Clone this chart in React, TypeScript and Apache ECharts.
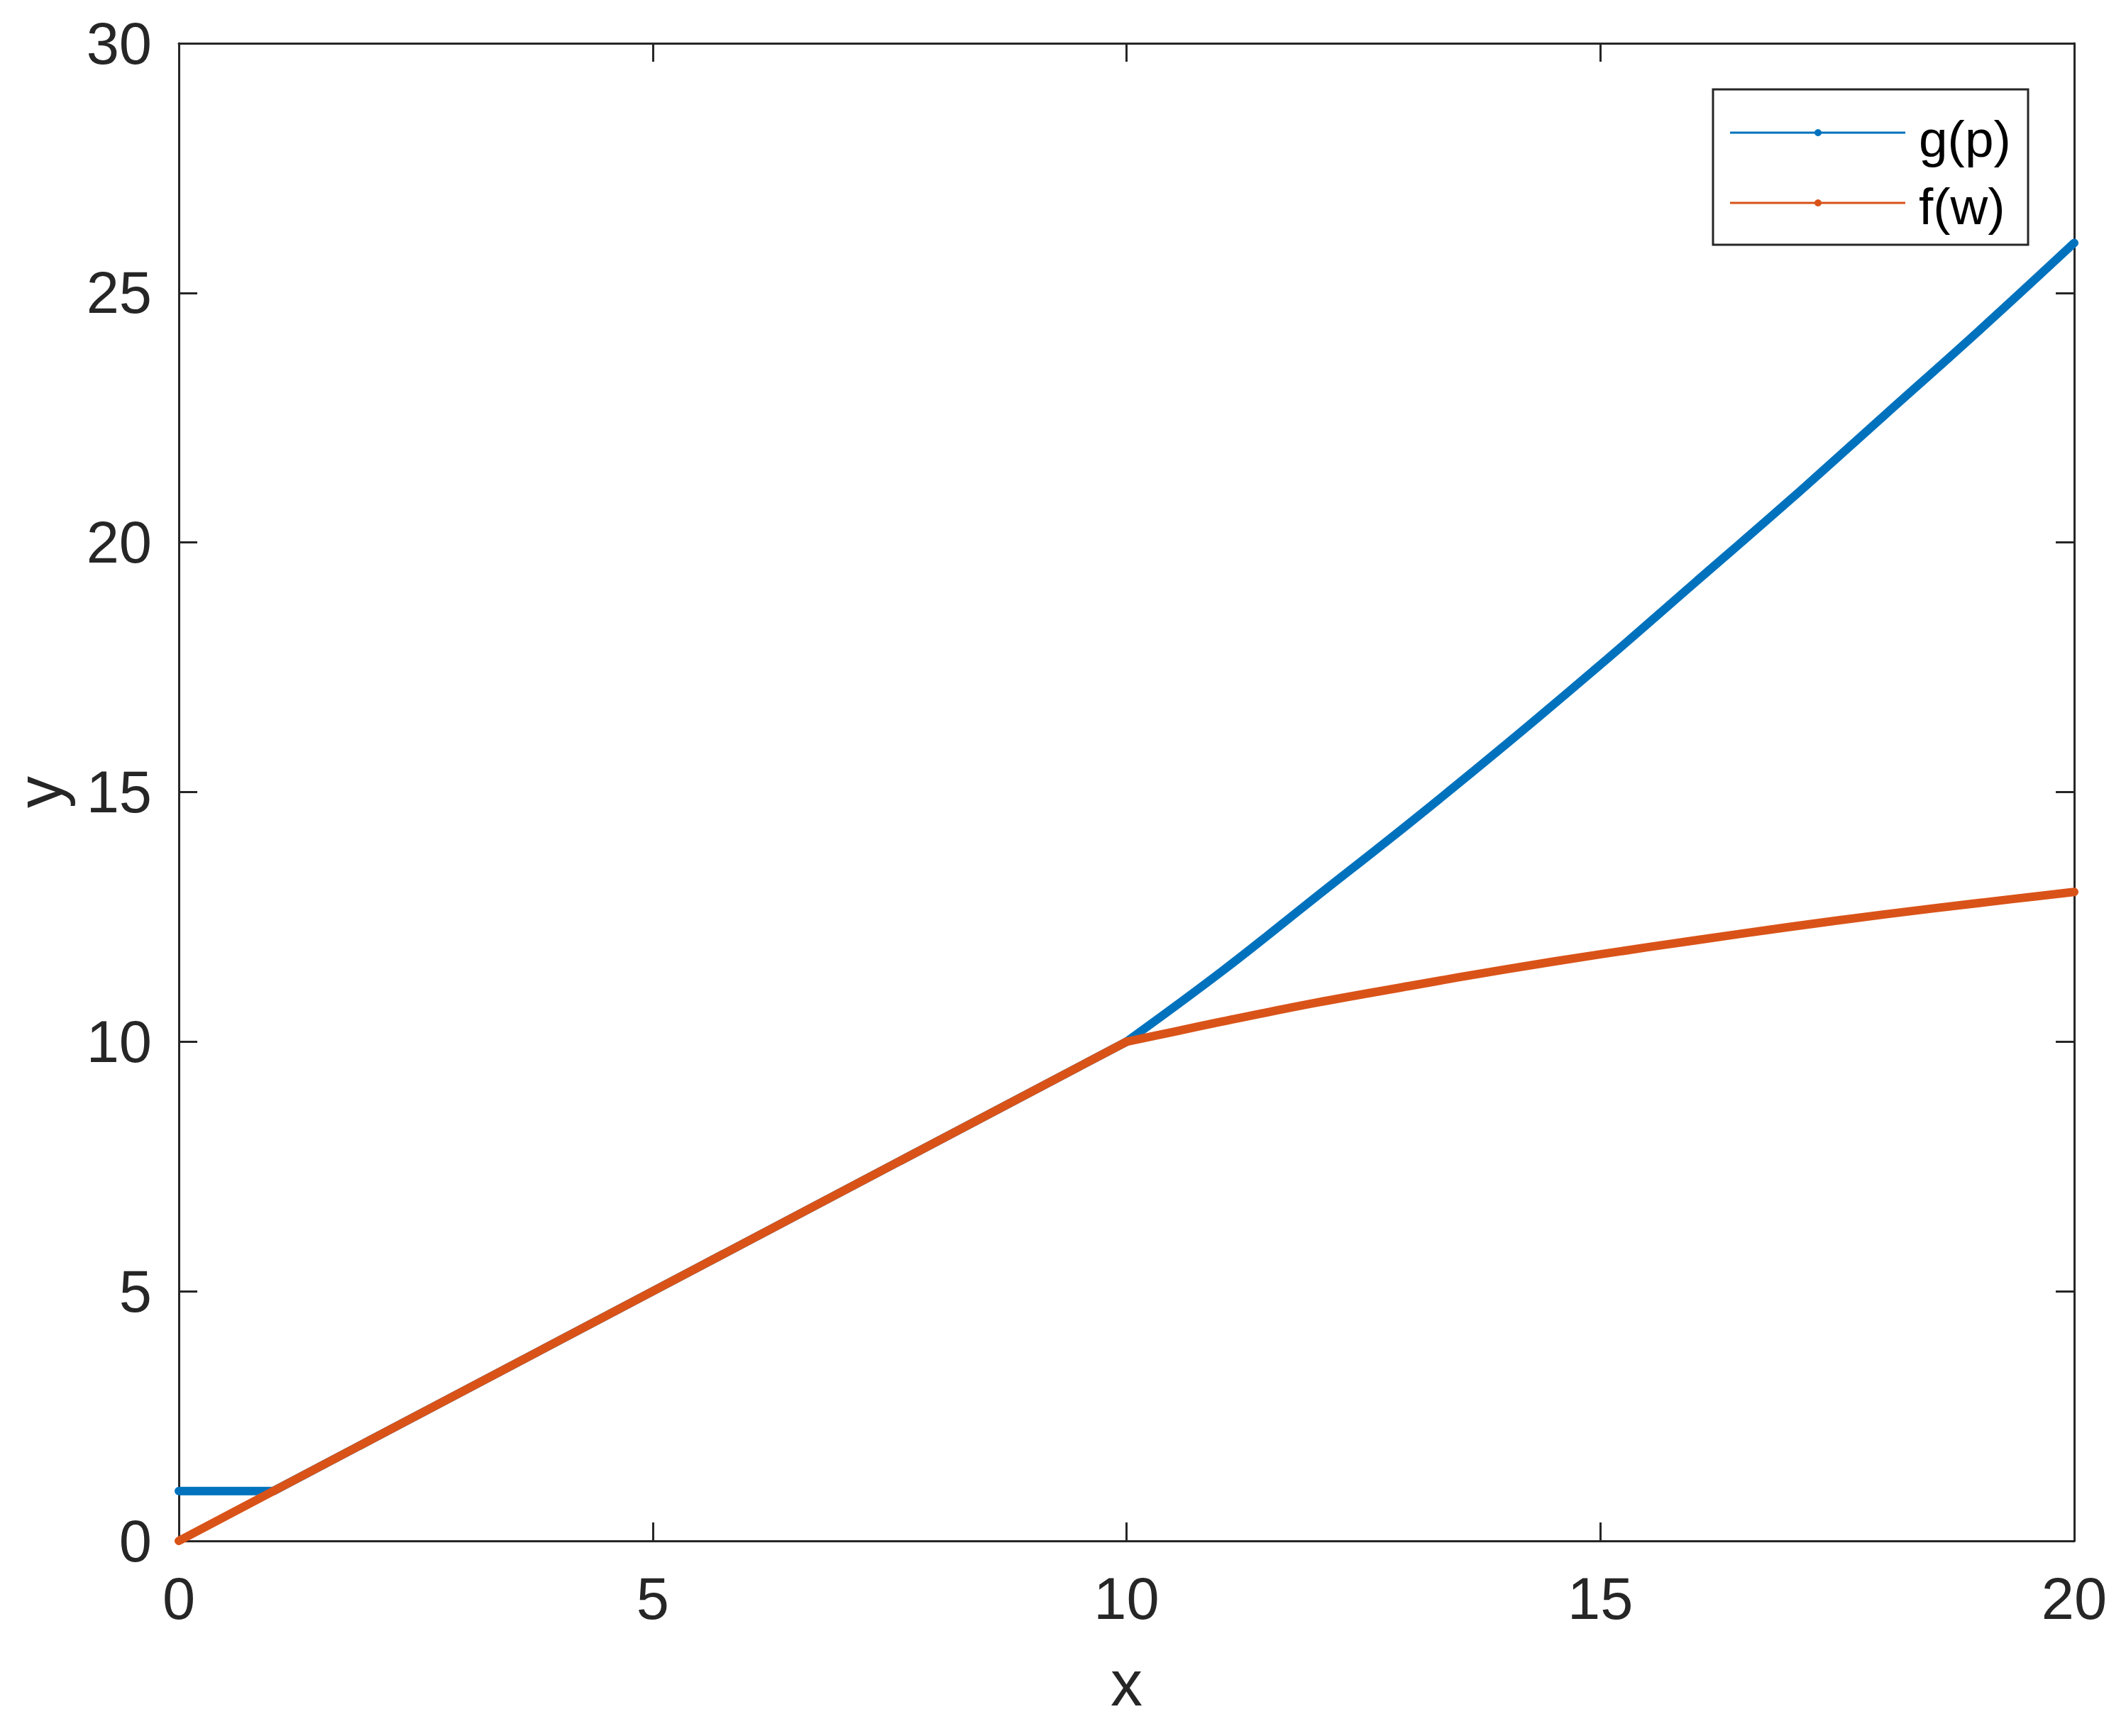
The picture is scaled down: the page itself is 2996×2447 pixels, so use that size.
import React, { useEffect, useRef } from "react";
import * as echarts from "echarts";

// ---- data ----
const xTicks = [0, 5, 10, 15, 20];
const yTicks = [0, 5, 10, 15, 20, 25, 30];
const seriesNames = ["g(p)", "f(w)"];

// g(p): straight part, then curved part
const gLinX = [0, 1, 10];
const gLinY = [1, 1, 10];
const gCurX = [10, 11, 12, 13, 14, 15, 16, 17, 18, 19, 20];
const gCurY = [10, 11.4, 12.9, 14.4, 15.95, 17.55, 19.2, 20.85, 22.55, 24.25, 26.0];

// f(w): straight part, then curved part
const fLinX = [0, 10];
const fLinY = [0, 10];
const fCurX = [10, 10.5, 11, 12, 13, 14, 15, 16, 17, 18, 19, 20];
const fCurY = [10, 10.2, 10.4, 10.78, 11.12, 11.45, 11.75, 12.03, 12.3, 12.55, 12.78, 13.0];

const BLUE = "#0072BD";
const ORANGE = "#D95319";
const AX = "#262626";
const FONT = "'Liberation Sans', Arial, Helvetica, sans-serif";

export default function App() {
  const ref = useRef<HTMLDivElement>(null);

  useEffect(() => {
    const chart = echarts.init(ref.current!, null, { renderer: "svg" });

    const pairs = (xs: number[], ys: number[]) => xs.map((x, i) => [x, ys[i]]);

    const baseX = {
      type: "value" as const,
      min: xTicks[0],
      max: xTicks[xTicks.length - 1],
      interval: 5,
      splitLine: { show: false },
      axisLine: { show: true, onZero: false, lineStyle: { color: AX, width: 3 } },
      axisTick: { show: true, inside: true, length: 26, lineStyle: { color: AX, width: 3 } },
    };
    const baseY = {
      type: "value" as const,
      min: yTicks[0],
      max: yTicks[yTicks.length - 1],
      interval: 5,
      splitLine: { show: false },
      axisLine: { show: true, onZero: false, lineStyle: { color: AX, width: 3 } },
      axisTick: { show: true, inside: true, length: 26, lineStyle: { color: AX, width: 3 } },
    };

    const legendRows = [
      { name: seriesNames[0], color: BLUE, y: 187, ty: 195 },
      { name: seriesNames[1], color: ORANGE, y: 286, ty: 290 },
    ];

    const graphic: any[] = [
      {
        type: "rect",
        z: 100,
        shape: { x: 2414, y: 126, width: 444, height: 219 },
        style: { fill: "#ffffff", stroke: AX, lineWidth: 3 },
      },
    ];
    legendRows.forEach((r) => {
      graphic.push(
        {
          type: "line",
          z: 101,
          shape: { x1: 2438, y1: r.y, x2: 2685, y2: r.y },
          style: { stroke: r.color, lineWidth: 3 },
        },
        {
          type: "circle",
          z: 102,
          shape: { cx: 2562, cy: r.y, r: 5 },
          style: { fill: r.color },
        },
        {
          type: "text",
          z: 102,
          x: 2704,
          y: r.ty,
          style: {
            text: r.name,
            fill: "#000000",
            font: `73px ${FONT}`,
            verticalAlign: "middle",
            align: "left",
          },
        }
      );
    });

    const mkLine = (name: string, data: number[][], color: string, smooth: boolean) => ({
      name,
      type: "line",
      data,
      xAxisIndex: 0,
      yAxisIndex: 0,
      showSymbol: false,
      clip: false,
      smooth: smooth ? 0.4 : false,
      lineStyle: { color, width: 12, cap: "round", join: "round" },
      itemStyle: { color },
    });

    chart.setOption({
      animation: false,
      backgroundColor: "#ffffff",
      grid: {
        left: 252,
        right: 73,
        top: 61,
        bottom: 275,
        containLabel: false,
        outerBoundsMode: "none",
      },
      xAxis: [
        {
          ...baseX,
          position: "bottom",
          name: "x",
          nameLocation: "middle",
          nameGap: 156,
          nameTextStyle: { color: AX, fontSize: 90, fontFamily: FONT },
          axisLabel: { color: AX, fontSize: 83, fontFamily: FONT, margin: 40 },
        },
        {
          ...baseX,
          position: "top",
          axisLabel: { show: false },
        },
      ],
      yAxis: [
        {
          ...baseY,
          position: "left",
          name: "y",
          nameLocation: "middle",
          nameRotate: 90,
          nameGap: 164,
          nameTextStyle: { color: AX, fontSize: 90, lineHeight: 64, fontFamily: FONT },
          axisLabel: { color: AX, fontSize: 83, fontFamily: FONT, margin: 38 },
        },
        {
          ...baseY,
          position: "right",
          axisLabel: { show: false },
        },
      ],
      series: [
        mkLine(seriesNames[0], pairs(gLinX, gLinY), BLUE, false),
        mkLine(seriesNames[0], pairs(gCurX, gCurY), BLUE, true),
        mkLine(seriesNames[1], pairs(fLinX, fLinY), ORANGE, false),
        mkLine(seriesNames[1], pairs(fCurX, fCurY), ORANGE, true),
      ],
      graphic,
    });

    return () => chart.dispose();
  }, []);

  return (
    <div
      ref={ref}
      style={{ position: "absolute", left: 0, top: 0, width: 2996, height: 2447, background: "#ffffff" }}
    />
  );
}
